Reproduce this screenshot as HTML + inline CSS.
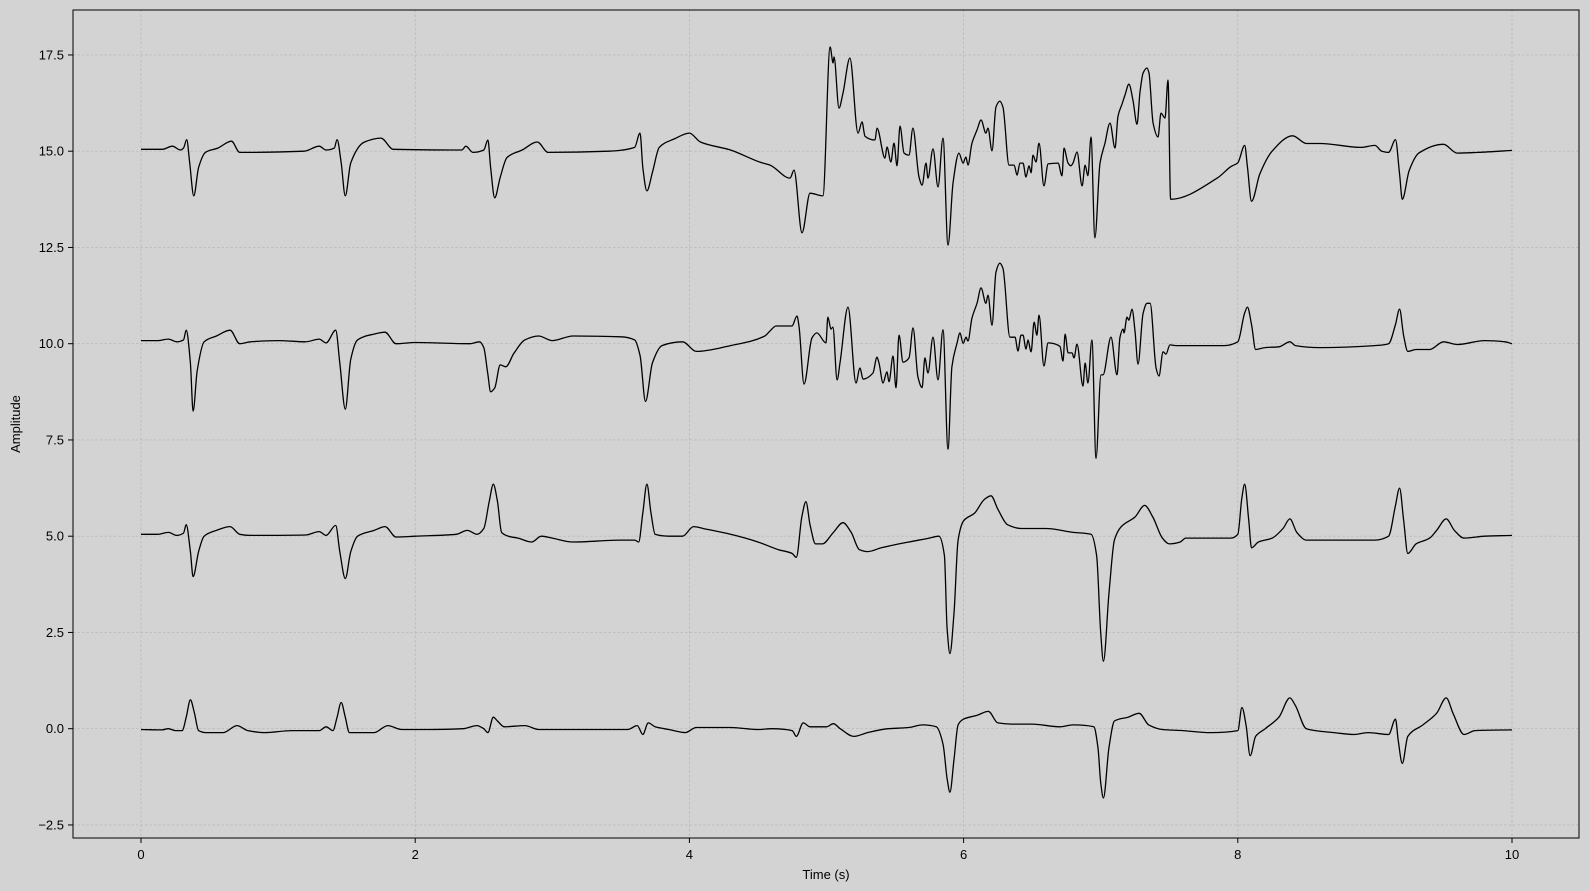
<!DOCTYPE html>
<html><head><meta charset="utf-8"><style>
html,body{margin:0;padding:0;background:#d3d3d3;}
svg{display:block;font-family:"Liberation Sans","DejaVu Sans",sans-serif;}
</style></head><body>
<svg id="chart" width="1590" height="891" viewBox="0 0 1590 891">
<rect x="0" y="0" width="1590" height="891" fill="#d3d3d3"/>
<g id="grid"></g>
<g id="lines"></g>
<rect x="73" y="10" width="1506" height="828" fill="none" stroke="#000" stroke-width="1"/>
<g id="xticks"></g>
<g id="yticks"></g>
<text x="826" y="879" font-size="13" text-anchor="middle">Time (s)</text>
<text x="20" y="424" font-size="13" text-anchor="middle" transform="rotate(-90 20 424)">Amplitude</text>
</svg>
<script>
const xTicks=[0,2,4,6,8,10];
const yTicks=[-2.5,0,2.5,5,7.5,10,12.5,15,17.5];
const yTickLabels=["\u22122.5","0.0","2.5","5.0","7.5","10.0","12.5","15.0","17.5"];
const series0=[[0,-0.02],[0.15,-0.03],[0.2,0],[0.25,-0.05],[0.3,-0.05],[0.33,0.3],[0.36,0.75],[0.39,0.4],[0.42,-0.05],[0.47,-0.1],[0.6,-0.1],[0.7,0.08],[0.78,-0.05],[0.9,-0.1],[1.1,-0.05],[1.3,-0.05],[1.35,0.05],[1.4,-0.05],[1.43,0.3],[1.46,0.68],[1.49,0.3],[1.52,-0.1],[1.7,-0.1],[1.8,0.08],[1.9,-0.02],[2.1,-0.02],[2.35,0],[2.45,0.08],[2.5,0],[2.53,-0.1],[2.57,0.3],[2.6,0.2],[2.65,0.05],[2.8,0.08],[2.9,-0.02],[3.3,-0.02],[3.55,-0.02],[3.62,0.08],[3.66,-0.15],[3.7,0.15],[3.75,0.05],[3.85,-0.02],[3.97,-0.1],[4.05,0.03],[4.3,0.03],[4.5,-0.02],[4.6,0],[4.75,-0.05],[4.78,-0.2],[4.83,0.15],[4.88,0.05],[5,0.05],[5.05,0.13],[5.1,0],[5.2,-0.2],[5.3,-0.1],[5.45,0],[5.6,0.03],[5.7,0.1],[5.8,0.05],[5.85,-0.4],[5.88,-1.3],[5.9,-1.65],[5.93,-0.8],[5.96,0.1],[6,0.25],[6.1,0.35],[6.18,0.45],[6.25,0.15],[6.35,0.12],[6.5,0.12],[6.7,0.05],[6.8,0.1],[6.95,0.05],[6.98,-0.5],[7,-1.4],[7.02,-1.8],[7.06,-0.5],[7.1,0.2],[7.2,0.3],[7.28,0.4],[7.35,0.1],[7.45,-0.02],[7.6,-0.05],[7.8,-0.1],[8,-0.05],[8.03,0.55],[8.06,0.1],[8.09,-0.7],[8.13,-0.2],[8.2,0],[8.3,0.3],[8.38,0.8],[8.42,0.6],[8.5,0],[8.7,-0.1],[8.85,-0.15],[8.95,-0.1],[9.1,-0.15],[9.15,0.25],[9.17,-0.3],[9.2,-0.9],[9.24,-0.2],[9.35,0.1],[9.45,0.4],[9.52,0.8],[9.57,0.4],[9.65,-0.15],[9.73,-0.05],[10,-0.03]];
const series1=[[0,5.05],[0.12,5.05],[0.2,5.1],[0.26,5.02],[0.31,5.08],[0.33,5.3],[0.36,4.6],[0.38,3.95],[0.42,4.6],[0.46,5],[0.55,5.15],[0.65,5.25],[0.72,5.05],[0.8,5.02],[1.2,5.03],[1.3,5.12],[1.35,5.02],[1.42,5.28],[1.45,4.6],[1.49,3.9],[1.53,4.6],[1.58,5],[1.7,5.15],[1.78,5.25],[1.86,4.98],[2,5],[2.3,5.05],[2.38,5.15],[2.45,5.05],[2.5,5.2],[2.54,5.9],[2.57,6.35],[2.6,5.9],[2.63,5.1],[2.68,5],[2.75,4.95],[2.85,4.85],[2.92,5],[3,4.95],[3.15,4.85],[3.5,4.9],[3.6,4.9],[3.63,4.85],[3.66,5.6],[3.69,6.35],[3.72,5.6],[3.75,5.05],[3.85,5],[3.95,5],[4.03,5.25],[4.1,5.2],[4.3,5.05],[4.5,4.85],[4.65,4.65],[4.75,4.55],[4.78,4.45],[4.82,5.5],[4.85,5.9],[4.88,5.3],[4.92,4.8],[4.97,4.8],[5.05,5.1],[5.12,5.35],[5.18,5.1],[5.24,4.65],[5.3,4.6],[5.4,4.7],[5.6,4.85],[5.75,4.95],[5.82,5],[5.86,4.5],[5.88,2.6],[5.9,1.95],[5.93,3],[5.96,4.9],[6,5.4],[6.08,5.6],[6.15,5.95],[6.2,6.05],[6.25,5.7],[6.32,5.3],[6.42,5.2],[6.6,5.2],[6.8,5.1],[6.93,5.05],[6.97,4.5],[7,2.5],[7.02,1.75],[7.06,3.5],[7.1,4.9],[7.15,5.25],[7.25,5.5],[7.32,5.8],[7.38,5.5],[7.45,4.95],[7.5,4.8],[7.58,4.85],[7.62,4.95],[7.8,4.95],[7.95,4.95],[8,5.05],[8.03,6],[8.05,6.35],[8.08,5.4],[8.1,4.7],[8.15,4.85],[8.25,4.95],[8.33,5.2],[8.38,5.45],[8.43,5.1],[8.5,4.9],[8.8,4.9],[9,4.9],[9.1,5],[9.15,5.8],[9.18,6.25],[9.21,5.4],[9.24,4.55],[9.3,4.8],[9.4,4.95],[9.45,5.15],[9.52,5.45],[9.58,5.15],[9.65,4.95],[9.8,5],[10,5.02]];
const series2=[[0,10.08],[0.12,10.08],[0.2,10.12],[0.26,10.05],[0.31,10.1],[0.33,10.35],[0.36,9.5],[0.38,8.25],[0.41,9.3],[0.46,10.05],[0.55,10.2],[0.65,10.35],[0.72,10],[0.8,10.05],[1,10.08],[1.2,10.05],[1.3,10.12],[1.35,10.02],[1.42,10.35],[1.45,9.5],[1.49,8.3],[1.53,9.6],[1.58,10.1],[1.7,10.25],[1.78,10.3],[1.86,10],[2,10.03],[2.4,10],[2.47,10.05],[2.5,9.9],[2.53,9.2],[2.55,8.75],[2.58,8.85],[2.62,9.45],[2.66,9.4],[2.72,9.75],[2.8,10.1],[2.9,10.2],[3,10.08],[3.15,10.2],[3.5,10.18],[3.6,10.1],[3.64,9.7],[3.68,8.5],[3.73,9.5],[3.8,9.95],[3.95,10.05],[4.05,9.8],[4.3,9.95],[4.55,10.2],[4.588,10.33],[4.632,10.46],[4.748,10.46],[4.785,10.72],[4.8,10.43],[4.836,8.95],[4.894,10.15],[4.93,10.28],[4.996,10.02],[5.01,10.69],[5.033,10.38],[5.047,10.43],[5.077,9.06],[5.099,9.52],[5.157,10.95],[5.215,8.98],[5.244,9.37],[5.266,9.08],[5.339,9.24],[5.368,9.65],[5.383,9.5],[5.412,8.98],[5.441,9.27],[5.456,9.01],[5.485,9.68],[5.507,8.85],[5.529,10.22],[5.558,9.52],[5.602,9.63],[5.631,10.41],[5.667,9.14],[5.697,8.86],[5.718,9.63],[5.74,9.24],[5.777,10.17],[5.813,9.06],[5.85,10.36],[5.886,7.26],[5.915,9.4],[5.952,10.01],[5.974,10.28],[5.996,10.01],[6.018,10.17],[6.032,10.07],[6.061,10.67],[6.098,11.05],[6.127,11.45],[6.163,11.05],[6.178,11.26],[6.207,10.48],[6.236,11.86],[6.265,12.09],[6.287,11.96],[6.338,10.17],[6.375,10.17],[6.397,9.81],[6.419,10.22],[6.433,10.22],[6.455,9.86],[6.47,10.1],[6.492,9.79],[6.514,10.56],[6.535,10.22],[6.55,10.74],[6.586,9.42],[6.616,10.02],[6.703,9.93],[6.725,9.55],[6.74,10.25],[6.762,9.76],[6.791,9.76],[6.805,9.63],[6.827,9.99],[6.871,8.9],[6.886,9.5],[6.907,8.98],[6.936,10.1],[6.966,7.02],[7.002,9.19],[7.017,9.19],[7.075,10.17],[7.119,9.19],[7.141,10.17],[7.163,10.38],[7.17,10.28],[7.192,10.69],[7.206,10.61],[7.228,10.9],[7.25,10.33],[7.272,9.47],[7.309,10.79],[7.338,11.05],[7.36,11.05],[7.404,9.37],[7.425,9.16],[7.455,9.79],[7.476,9.73],[7.505,9.97],[7.55,9.95],[7.9,9.95],[8,10.05],[8.05,10.8],[8.07,10.95],[8.1,10.5],[8.13,9.85],[8.2,9.9],[8.3,9.92],[8.38,10.05],[8.42,9.95],[8.6,9.9],[9,9.95],[9.1,10],[9.15,10.5],[9.18,10.9],[9.21,10.2],[9.24,9.8],[9.3,9.85],[9.4,9.85],[9.5,10.05],[9.6,9.98],[9.8,10.08],[9.95,10.05],[10,10]];
const series3=[[0,15.05],[0.155,15.05],[0.229,15.13],[0.288,15.03],[0.31,15.08],[0.333,15.3],[0.355,14.7],[0.385,13.84],[0.42,14.58],[0.47,14.97],[0.56,15.08],[0.66,15.26],[0.72,14.97],[1.19,15],[1.3,15.13],[1.35,15.03],[1.41,15.08],[1.43,15.3],[1.46,14.7],[1.49,13.84],[1.53,14.7],[1.63,15.24],[1.75,15.34],[1.84,15.05],[2.34,15.03],[2.37,15.13],[2.42,14.97],[2.5,15.03],[2.53,15.29],[2.55,14.58],[2.58,13.79],[2.62,14.32],[2.67,14.84],[2.78,15.03],[2.89,15.24],[2.97,14.97],[3.41,15],[3.6,15.1],[3.64,15.47],[3.66,14.58],[3.69,13.97],[3.73,14.45],[3.78,15.1],[3.89,15.32],[4,15.47],[4.08,15.24],[4.3,15.03],[4.52,14.71],[4.588,14.64],[4.734,14.3],[4.763,14.51],[4.821,12.88],[4.88,13.91],[4.974,13.84],[5.026,17.71],[5.048,17.29],[5.055,17.45],[5.091,16.12],[5.12,16.51],[5.171,17.42],[5.23,15.47],[5.259,15.76],[5.281,15.39],[5.354,15.29],[5.368,15.6],[5.427,14.82],[5.441,15.11],[5.47,14.72],[5.492,15.21],[5.514,14.62],[5.536,15.65],[5.566,14.95],[5.602,14.9],[5.63,15.6],[5.675,14.33],[5.697,14.12],[5.726,14.69],[5.74,14.3],[5.777,15.06],[5.813,14.07],[5.85,15.34],[5.886,12.56],[5.923,14.17],[5.966,14.95],[5.996,14.69],[6.017,14.85],[6.032,14.64],[6.061,15.21],[6.098,15.55],[6.127,15.81],[6.163,15.47],[6.178,15.6],[6.207,15.01],[6.236,16.15],[6.265,16.3],[6.287,16.15],[6.331,14.64],[6.368,14.64],[6.39,14.38],[6.411,14.69],[6.433,14.69],[6.455,14.33],[6.477,14.62],[6.492,14.44],[6.506,14.9],[6.528,14.72],[6.55,15.21],[6.586,14.1],[6.616,14.67],[6.689,14.69],[6.718,14.36],[6.732,15.08],[6.762,14.69],[6.783,14.62],[6.798,14.69],[6.827,14.98],[6.864,14.1],[6.886,14.64],[6.907,14.36],[6.929,15.37],[6.958,12.75],[6.995,14.69],[7.031,15.21],[7.068,15.73],[7.104,15.08],[7.126,15.91],[7.155,16.22],[7.177,16.46],[7.206,16.74],[7.235,16.33],[7.265,15.7],[7.287,16.54],[7.309,17.03],[7.338,17.16],[7.352,17.03],[7.382,15.73],[7.418,15.37],[7.44,15.99],[7.469,15.86],[7.491,16.85],[7.51,13.75],[7.85,14.3],[7.95,14.6],[8,14.7],[8.05,15.15],[8.07,14.6],[8.1,13.7],[8.16,14.4],[8.25,15],[8.4,15.4],[8.5,15.2],[8.6,15.2],[8.9,15.1],[9,15.15],[9.05,15],[9.1,14.97],[9.15,15.3],[9.18,14.4],[9.2,13.75],[9.25,14.5],[9.32,14.95],[9.5,15.18],[9.6,14.95],[9.75,14.97],[10,15.02]];

const X0=141, XS=137.1, Y0=728.7, YS=38.5;
function xs(t){return X0+t*XS;}
function ys(v){return Y0-v*YS;}
const NS='http://www.w3.org/2000/svg';
const grid=document.getElementById('grid');
const xg=document.getElementById('xticks');
const yg=document.getElementById('yticks');
xTicks.forEach(t=>{
  const x=xs(t);
  const gl=document.createElementNS(NS,'line');
  gl.setAttribute('x1',x);gl.setAttribute('x2',x);gl.setAttribute('y1',10);gl.setAttribute('y2',838);
  gl.setAttribute('stroke','#b4b4b4');gl.setAttribute('stroke-width','0.7');gl.setAttribute('stroke-dasharray','2.5,2');
  
  
  grid.appendChild(gl);
  const tk=document.createElementNS(NS,'line');
  tk.setAttribute('x1',x);tk.setAttribute('x2',x);tk.setAttribute('y1',838);tk.setAttribute('y2',843);tk.setAttribute('stroke','#000');
  
  
  xg.appendChild(tk);
  const tx=document.createElementNS(NS,'text');
  tx.setAttribute('x',x);tx.setAttribute('y',859);tx.setAttribute('font-size','13');tx.setAttribute('text-anchor','middle');
  tx.textContent=String(t);
  
  
  xg.appendChild(tx);
});
yTicks.forEach((v,i)=>{
  const y=ys(v);
  const gl=document.createElementNS(NS,'line');
  gl.setAttribute('x1',73);gl.setAttribute('x2',1579);gl.setAttribute('y1',y);gl.setAttribute('y2',y);
  gl.setAttribute('stroke','#b4b4b4');gl.setAttribute('stroke-width','0.7');gl.setAttribute('stroke-dasharray','2.5,2');
  
  
  grid.appendChild(gl);
  const tk=document.createElementNS(NS,'line');
  tk.setAttribute('x1',68);tk.setAttribute('x2',73);tk.setAttribute('y1',y);tk.setAttribute('y2',y);tk.setAttribute('stroke','#000');
  
  
  yg.appendChild(tk);
  const tx=document.createElementNS(NS,'text');
  tx.setAttribute('x',64);tx.setAttribute('y',y+4.5);tx.setAttribute('font-size','13');tx.setAttribute('text-anchor','end');
  tx.textContent=yTickLabels[i];
  
  
  yg.appendChild(tx);
});
// monotone cubic path (no overshoot)
function monoPath(pts){
  const n=pts.length;
  const dx=[],m=[],tg=[];
  for(let i=0;i<n-1;i++){dx[i]=pts[i+1][0]-pts[i][0];m[i]=(pts[i+1][1]-pts[i][1])/dx[i];}
  tg[0]=m[0];tg[n-1]=m[n-2];
  for(let i=1;i<n-1;i++){
    if(m[i-1]*m[i]<=0){tg[i]=0;}
    else{const w1=2*dx[i]+dx[i-1],w2=dx[i]+2*dx[i-1];tg[i]=(w1+w2)/(w1/m[i-1]+w2/m[i]);}
  }
  let d='M'+pts[0][0].toFixed(1)+','+pts[0][1].toFixed(1);
  for(let i=0;i<n-1;i++){
    const h=dx[i]/3;
    d+='C'+(pts[i][0]+h).toFixed(1)+','+(pts[i][1]+tg[i]*h).toFixed(1)+' '+(pts[i+1][0]-h).toFixed(1)+','+(pts[i+1][1]-tg[i+1]*h).toFixed(1)+' '+pts[i+1][0].toFixed(1)+','+pts[i+1][1].toFixed(1);
  }
  return d;
}
const lines=document.getElementById('lines');
[series0,series1,series2,series3].forEach((s,i)=>{
  const p=document.createElementNS(NS,'path');
  p.setAttribute('d',monoPath(s.map(d=>[xs(d[0]),ys(d[1])])));
  p.setAttribute('fill','none');p.setAttribute('stroke','#000');p.setAttribute('stroke-width','1.3');p.setAttribute('stroke-linejoin','round');
  
  
  lines.appendChild(p);
});
</script>
</body></html>
